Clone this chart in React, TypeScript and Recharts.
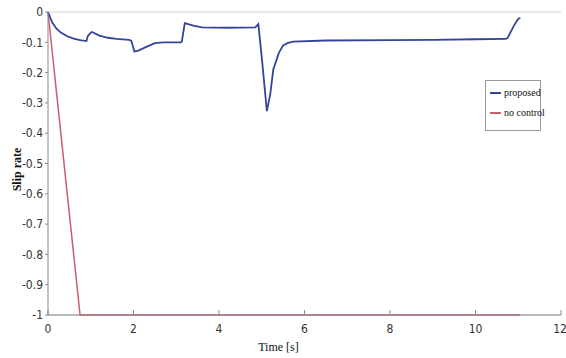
import React from 'react';
import { LineChart, Line, XAxis, YAxis, CartesianGrid, Label } from 'recharts';

// time [s] and slip rate for the proposed controller
const proposedTime = [0, 0.1, 0.2, 0.3, 0.45, 0.6, 0.75, 0.9, 0.93, 1.0, 1.03, 1.2, 1.4, 1.6, 1.9, 1.95, 2.02, 2.1, 2.3, 2.5, 2.7, 3.1, 3.13, 3.2, 3.4, 3.6, 4.2, 4.85, 4.92, 5.0, 5.12, 5.2, 5.27, 5.4, 5.5, 5.6, 5.73, 6.5, 8, 9, 10, 10.7, 10.75, 10.9, 11.0, 11.05];
const proposedSlip = [0, -0.035, -0.055, -0.068, -0.08, -0.088, -0.093, -0.096, -0.08, -0.068, -0.066, -0.078, -0.085, -0.089, -0.092, -0.095, -0.13, -0.128, -0.115, -0.103, -0.1, -0.1, -0.098, -0.037, -0.045, -0.051, -0.052, -0.051, -0.04, -0.15, -0.327, -0.27, -0.19, -0.135, -0.11, -0.103, -0.098, -0.094, -0.093, -0.092, -0.09, -0.089, -0.086, -0.045, -0.022, -0.02];

// time [s] and slip rate without control
const noControlTime = [0, 0.75, 11.05];
const noControlSlip = [0, -1, -1];

const xTicks = [0, 2, 4, 6, 8, 10, 12];
const yTicks = [0, -0.1, -0.2, -0.3, -0.4, -0.5, -0.6, -0.7, -0.8, -0.9, -1];

const proposedData = proposedTime.map((t, i) => ({ t, v: proposedSlip[i] }));
const noControlData = noControlTime.map((t, i) => ({ t, v: noControlSlip[i] }));

const tickFont = { fontFamily: "'Liberation Sans Narrow', 'DejaVu Sans Condensed', 'Liberation Sans', sans-serif", fontSize: 12, fill: '#333' };
const hiddenTick = { fill: 'none', fontSize: 1 };
const AXIS = '#8a8a8a';
const BLUE = '#34449a';
const RED = '#d05a6a';

const swatch = (color: string) => (
  <span style={{ display: 'inline-block', flexShrink: 0, width: 11, height: 2, background: color, marginRight: 3 }} />
);

export default function App() {
  return (
    <div style={{ position: 'absolute', left: 0, top: 0, background: '#fff', width: 566, height: 358 }}>
      <LineChart width={566} height={358} margin={{ top: 12, right: 5, left: 0, bottom: 13 }}>
        <CartesianGrid vertical={false} stroke="#d4d4d4" />
        <XAxis
          xAxisId="main"
          dataKey="t"
          type="number"
          domain={[0, 12]}
          ticks={xTicks}
          height={30}
          stroke={AXIS}
          tickSize={-5}
          tick={tickFont}
          tickMargin={14}
          allowDuplicatedCategory={false}
        >
          <Label value="Time [s]" position="insideBottom" offset={-6} dx={-26} style={{ fontFamily: "'Liberation Serif', serif", fontSize: 12, fill: '#111' }} />
        </XAxis>
        <XAxis xAxisId="top" orientation="top" type="number" dataKey="t" domain={[0, 12]} ticks={xTicks} mirror height={0} tickSize={5} stroke={AXIS} tick={hiddenTick} />
        <YAxis
          yAxisId="main"
          type="number"
          domain={[-1, 0]}
          ticks={yTicks}
          width={48}
          stroke={AXIS}
          tickSize={3}
          tick={tickFont}
          tickFormatter={(v: number) => (v === 0 ? '0' : String(Number(v.toFixed(1))))}
        >
          <Label value="Slip rate" angle={-90} position="insideLeft" offset={17} dy={6} style={{ fontFamily: "'Liberation Serif', serif", fontSize: 12, fontWeight: 'bold', fill: '#111', textAnchor: 'middle' }} />
        </YAxis>
        <YAxis yAxisId="right" orientation="right" type="number" domain={[-1, 0]} ticks={yTicks} mirror width={0} tickSize={5} stroke={AXIS} tick={hiddenTick} />
        {/* invisible series so the frame axes (top / right) get drawn */}
        <Line xAxisId="top" yAxisId="right" data={noControlData} dataKey="v" stroke="none" dot={false} legendType="none" isAnimationActive={false} />
        <Line
          xAxisId="main"
          yAxisId="main"
          data={noControlData}
          dataKey="v"
          name="no control"
          stroke={RED}
          strokeWidth={1.5}
          dot={false}
          isAnimationActive={false}
        />
        <Line
          xAxisId="main"
          yAxisId="main"
          data={proposedData}
          dataKey="v"
          name="proposed"
          stroke={BLUE}
          strokeWidth={1.8}
          dot={false}
          type="linear"
          isAnimationActive={false}
        />
      </LineChart>
      <div style={{ position: 'absolute', left: 485, top: 80, width: 56, height: 51, boxSizing: 'border-box', border: '1px solid #999', background: '#fff', padding: '6px 4px', fontFamily: "'Liberation Serif', serif", fontSize: 10, color: '#111', whiteSpace: 'nowrap' }}>
        <div style={{ display: 'flex', alignItems: 'center', marginBottom: 9 }}>
          {swatch(BLUE)}
          proposed
        </div>
        <div style={{ display: 'flex', alignItems: 'center' }}>
          {swatch(RED)}
          no control
        </div>
      </div>
    </div>
  );
}
